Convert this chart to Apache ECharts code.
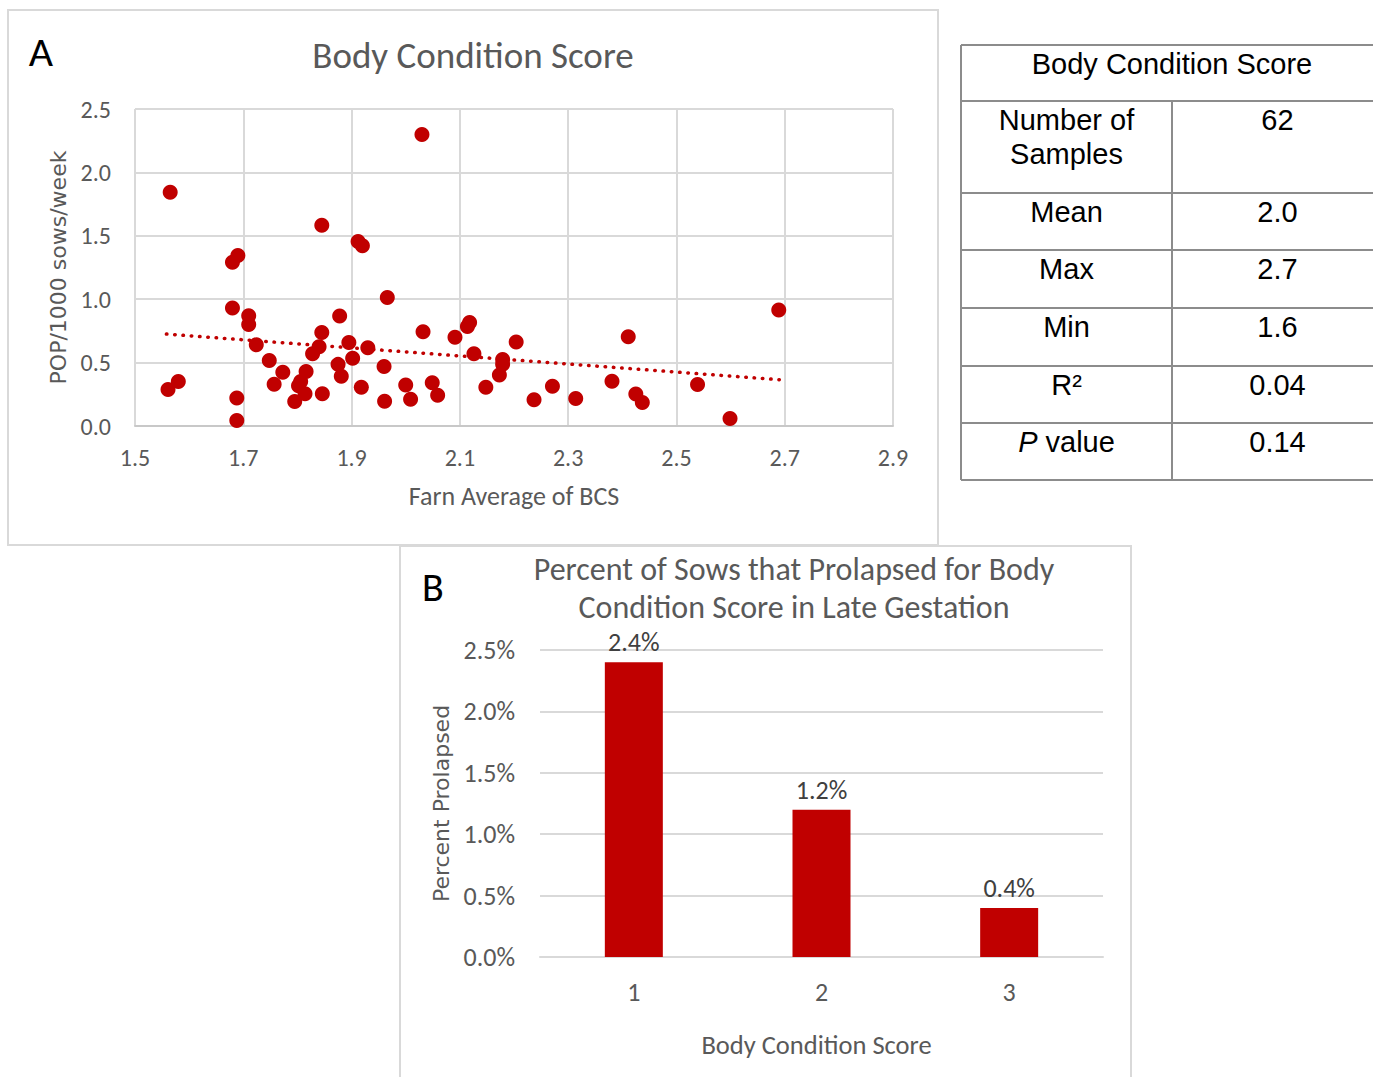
<!DOCTYPE html>
<html>
<head>
<meta charset="utf-8">
<title>Body Condition Score</title>
<script src="https://cdn.jsdelivr.net/npm/echarts@6/dist/echarts.min.js"></script>
<style>
  html, body { margin: 0; padding: 0; background: #ffffff; }
  #main { width: 1373px; height: 1077px; }
</style>
</head>
<body>
<div id="main"></div>
<script>
// Panel A: farm average body condition score vs. pelvic organ prolapse rate
const farmBcs = [
  1.565, 1.845, 1.912, 1.920, 1.680, 1.690, 1.966, 1.680, 1.710, 1.710,
  1.878, 1.845, 1.724, 1.895, 1.930, 1.840, 1.828, 1.902, 1.748, 1.960,
  1.875, 1.881, 1.773, 1.816, 1.757, 1.806, 1.802, 1.814, 1.846, 1.918,
  1.795, 1.961, 1.561, 1.580, 1.688, 1.688, 2.030, 2.032, 2.091, 2.114,
  2.118, 2.204, 2.411, 2.126, 2.179, 2.179, 2.173, 2.000, 2.009, 2.049,
  2.059, 2.148, 2.237, 2.271, 2.314, 2.381, 2.425, 2.437, 2.539, 2.599,
  2.689
];
const popRate = [
  1.843, 1.583, 1.455, 1.421, 1.292, 1.345, 1.014, 0.930, 0.869, 0.801,
  0.867, 0.738, 0.640, 0.659, 0.618, 0.625, 0.570, 0.535, 0.516, 0.469,
  0.486, 0.392, 0.424, 0.430, 0.330, 0.350, 0.318, 0.254, 0.255, 0.306,
  0.193, 0.196, 0.287, 0.351, 0.220, 0.044, 2.298, 0.743, 0.700, 0.784,
  0.817, 0.662, 0.703, 0.570, 0.524, 0.487, 0.403, 0.324, 0.211, 0.341,
  0.243, 0.306, 0.207, 0.314, 0.216, 0.352, 0.253, 0.186, 0.328, 0.060,
  0.914
];
// linear trend line end points
const trendBcs = [1.558, 2.690];
const trendPop = [0.725, 0.365];

// summary table beside panel A
const tableLabels = ['Number of\nSamples', 'Mean', 'Max', 'Min', 'R\u00B2', '{it|P}{rg| value}'];
const tableValues = ['62', '2.0', '2.7', '1.6', '0.04', '0.14'];

// Panel B: percent of sows prolapsed by BCS category
const bcsCategories = ['1', '2', '3'];
const prolapsePct = [2.4, 1.2, 0.4];
const titleB = ['Percent of Sows that Prolapsed for Body', 'Condition Score in Late Gestation'];

const RED = '#c00000';
const GREY_TXT = '#595959';
const GRID = '#d9d9d9';
const CAL = 'Carlito, Lato, sans-serif';
const ARIAL = '"Liberation Sans", Arial, sans-serif';
const WIDE = '"DejaVu Sans", Verdana, sans-serif';

const chart = echarts.init(document.getElementById('main'), null, { renderer: 'svg' });

// table geometry
const tLeft = 961, tMid = 1172, tRight = 1383;
const rowTops = [45, 101, 193, 250, 308, 366, 423, 480];
const tableGraphics = [];
const LINE_COL = '#8c8c8c';
rowTops.forEach(function (y) {
  tableGraphics.push({ type: 'line', shape: { x1: tLeft, y1: y, x2: tRight, y2: y },
    style: { stroke: LINE_COL, lineWidth: 2 } });
});
tableGraphics.push({ type: 'line', shape: { x1: tLeft, y1: rowTops[0], x2: tLeft, y2: rowTops[7] },
  style: { stroke: LINE_COL, lineWidth: 2 } });
tableGraphics.push({ type: 'line', shape: { x1: tMid, y1: rowTops[1], x2: tMid, y2: rowTops[7] },
  style: { stroke: LINE_COL, lineWidth: 2 } });
tableGraphics.push({ type: 'text', style: { text: 'Body Condition Score', x: (tLeft + tRight) / 2,
  y: rowTops[0] + 19, textAlign: 'center', textVerticalAlign: 'middle',
  font: '29px ' + ARIAL, fill: '#000' } });
tableLabels.forEach(function (lab, i) {
  const top = rowTops[i + 1];
  const multi = lab.indexOf('\n') >= 0;
  tableGraphics.push({ type: 'text', style: {
    text: lab, x: (tLeft + tMid) / 2, y: multi ? top + 36 : top + 19,
    textAlign: 'center', textVerticalAlign: 'middle', lineHeight: 34,
    font: '29px ' + ARIAL, fill: '#000',
    rich: {
      it: { fontStyle: 'italic', fontSize: 29, fontFamily: ARIAL, fill: '#000' },
      rg: { fontSize: 29, fontFamily: ARIAL, fill: '#000' }
    } } });
  tableGraphics.push({ type: 'text', style: {
    text: tableValues[i], x: (tMid + tRight) / 2, y: top + 19,
    textAlign: 'center', textVerticalAlign: 'middle',
    font: '29px ' + ARIAL, fill: '#000' } });
});

// two-line title of panel B, one text element per line
const titleBGraphics = titleB.map(function (line, i) {
  return { type: 'text', style: { text: line, x: 794, y: 569 + i * 38, textAlign: 'center',
    textVerticalAlign: 'middle', lineHeight: 28, font: '32px ' + CAL, fill: GREY_TXT } };
});

const option = {
  animation: false,
  backgroundColor: '#ffffff',
  grid: [
    { left: 135, top: 109, width: 758, height: 317 },
    { left: 540, top: 650, width: 563, height: 307 }
  ],
  xAxis: [
    {
      gridIndex: 0, type: 'value', min: 1.5, max: 2.9, interval: 0.2,
      name: 'Farn Average of BCS', nameLocation: 'middle', nameGap: 57,
      nameTextStyle: { color: GREY_TXT, fontSize: 26, fontFamily: CAL },
      axisLine: { show: true, lineStyle: { color: '#c8c8c8', width: 2 } },
      axisTick: { show: false },
      axisLabel: { color: GREY_TXT, fontSize: 24, fontFamily: CAL, margin: 19,
        formatter: function (v) { return v.toFixed(1); } },
      splitLine: { show: true, lineStyle: { color: GRID, width: 2 } }
    },
    {
      gridIndex: 1, type: 'category', data: bcsCategories,
      name: 'Body Condition Score', nameLocation: 'middle', nameGap: 74,
      nameTextStyle: { color: GREY_TXT, fontSize: 26.5, fontFamily: CAL, padding: [0, 10, 0, 0] },
      axisLine: { show: true, lineStyle: { color: GRID, width: 2 } },
      axisTick: { show: false },
      axisLabel: { color: GREY_TXT, fontSize: 26, fontFamily: CAL, margin: 22 }
    }
  ],
  yAxis: [
    {
      gridIndex: 0, type: 'value', min: 0, max: 2.5, interval: 0.5,
      name: 'POP/1000 sows/week', nameLocation: 'middle', nameGap: 66,
      nameTextStyle: { color: GREY_TXT, fontSize: 22, fontFamily: WIDE },
      axisLine: { show: false }, axisTick: { show: false },
      axisLabel: { color: GREY_TXT, fontSize: 24, fontFamily: CAL, margin: 24,
        formatter: function (v) { return v.toFixed(1); } },
      splitLine: { show: true, lineStyle: { color: GRID, width: 2 } }
    },
    {
      gridIndex: 1, type: 'value', min: 0, max: 2.5, interval: 0.5,
      name: 'Percent Prolapsed', nameLocation: 'middle', nameGap: 88,
      nameTextStyle: { color: GREY_TXT, fontSize: 22, fontFamily: WIDE },
      axisLine: { show: false }, axisTick: { show: false },
      axisLabel: { color: GREY_TXT, fontSize: 26, fontFamily: CAL, margin: 25,
        formatter: function (v) { return v.toFixed(1) + '%'; } },
      splitLine: { show: true, lineStyle: { color: GRID, width: 2 } }
    }
  ],
  series: [
    {
      name: 'POP', type: 'scatter', xAxisIndex: 0, yAxisIndex: 0,
      symbol: 'circle', symbolSize: 15,
      itemStyle: { color: RED, opacity: 1 },
      data: farmBcs.map(function (x, i) { return [x, popRate[i]]; })
    },
    {
      name: 'Linear (POP)', type: 'line', xAxisIndex: 0, yAxisIndex: 0,
      showSymbol: false, symbol: 'none',
      lineStyle: { color: RED, width: 3.5, type: [0.5, 7.8], cap: 'round' },
      data: trendBcs.map(function (x, i) { return [x, trendPop[i]]; }),
      z: 3
    },
    {
      name: 'Percent Prolapsed', type: 'bar', xAxisIndex: 1, yAxisIndex: 1,
      barWidth: 58,
      itemStyle: { color: RED },
      label: { show: true, position: 'top', distance: 8, color: '#404040',
        fontSize: 26, lineHeight: 24, fontFamily: CAL,
        formatter: function (p) { return p.value.toFixed(1) + '%'; } },
      data: prolapsePct
    }
  ],
  graphic: [
    // panel frames
    { type: 'rect', shape: { x: 8, y: 10, width: 930, height: 535 },
      style: { fill: 'none', stroke: GRID, lineWidth: 2 }, z: -10 },
    { type: 'rect', shape: { x: 400, y: 546, width: 731, height: 545 },
      style: { fill: 'none', stroke: GRID, lineWidth: 2 }, z: -10 },
    // panel letters
    { type: 'text', style: { text: 'A', x: 41, y: 51, textAlign: 'center', textVerticalAlign: 'middle',
      font: '42px ' + CAL, fill: '#000' } },
    { type: 'text', style: { text: 'B', x: 433, y: 587, textAlign: 'center', textVerticalAlign: 'middle',
      font: '40px ' + CAL, fill: '#000' } },
    // panel A title
    { type: 'text', style: { text: 'Body Condition Score', x: 473, y: 55, textAlign: 'center',
      textVerticalAlign: 'middle', font: '37px ' + CAL, fill: GREY_TXT } }
  ].concat(titleBGraphics, tableGraphics)
};

chart.setOption(option);
</script>
</body>
</html>
